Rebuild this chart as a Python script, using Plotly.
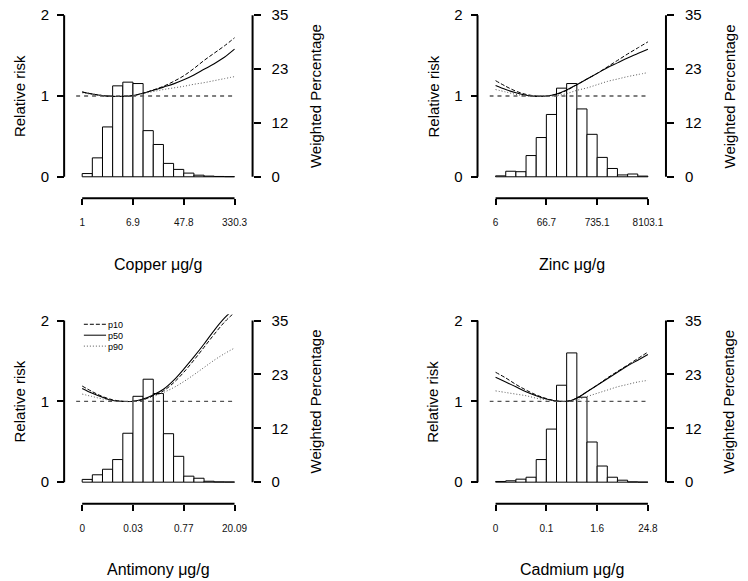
import plotly.graph_objects as go

W, H = 748, 581

# ---------------- data ----------------
metals = ["Copper", "Zinc", "Antimony", "Cadmium"]
x_tick_labels = {
    "Copper": ["1", "6.9", "47.8", "330.3"],
    "Zinc": ["6", "66.7", "735.1", "8103.1"],
    "Antimony": ["0", "0.03", "0.77", "20.09"],
    "Cadmium": ["0", "0.1", "1.6", "24.8"],
}
# weighted percentage per histogram bin (15 bins)
copper_pct = [0.7, 4.1, 10.8, 19.7, 20.5, 20.2, 10.0, 7.0, 2.9, 1.6, 0.8, 0.35, 0.15, 0.07, 0.03]
zinc_pct = [0.2, 1.2, 1.1, 4.6, 8.5, 13.5, 19.2, 20.2, 14.7, 9.2, 4.2, 1.8, 0.4, 0.6, 0.15]
antimony_pct = [0.6, 1.6, 2.8, 4.9, 10.6, 18.6, 22.3, 19.2, 10.5, 5.6, 1.3, 0.85, 0.2, 0.07, 0.05]
cadmium_pct = [0.15, 0.3, 0.65, 1.07, 4.9, 11.5, 21.0, 28.0, 18.4, 8.7, 3.5, 1.07, 0.43, 0.07, 0.02]

# relative risk curves evaluated at bin edges 0..15
copper_p10 = [1.05, 1.025, 1.005, 0.995, 0.995, 1.005, 1.035, 1.075, 1.12, 1.18, 1.25, 1.34, 1.44, 1.53, 1.62, 1.72]
copper_p50 = [1.05, 1.025, 1.005, 0.995, 0.995, 1.005, 1.035, 1.07, 1.11, 1.15, 1.20, 1.26, 1.33, 1.40, 1.48, 1.58]
copper_p90 = [1.04, 1.02, 1.005, 0.995, 0.995, 1.0, 1.03, 1.055, 1.08, 1.10, 1.12, 1.145, 1.165, 1.19, 1.215, 1.24]

zinc_p10 = [1.19, 1.12, 1.06, 1.02, 1.0, 1.0, 1.02, 1.07, 1.14, 1.21, 1.28, 1.36, 1.44, 1.52, 1.595, 1.67]
zinc_p50 = [1.13, 1.08, 1.04, 1.01, 0.995, 1.0, 1.025, 1.075, 1.14, 1.21, 1.28, 1.35, 1.41, 1.47, 1.525, 1.58]
zinc_p90 = [1.08, 1.05, 1.02, 1.0, 0.995, 0.995, 1.005, 1.03, 1.07, 1.10, 1.14, 1.18, 1.21, 1.24, 1.265, 1.29]

antimony_p10 = [1.19, 1.12, 1.06, 1.02, 1.0, 1.0, 1.02, 1.07, 1.13, 1.23, 1.36, 1.51, 1.67, 1.83, 1.98, 2.10]
antimony_p50 = [1.16, 1.10, 1.05, 1.01, 1.0, 1.0, 1.03, 1.08, 1.15, 1.26, 1.40, 1.55, 1.71, 1.88, 2.03, 2.15]
antimony_p90 = [1.09, 1.06, 1.03, 1.01, 1.0, 1.0, 1.02, 1.06, 1.11, 1.17, 1.245, 1.33, 1.42, 1.51, 1.59, 1.66]

cadmium_p10 = [1.36, 1.29, 1.21, 1.14, 1.08, 1.035, 1.005, 1.0, 1.04, 1.12, 1.20, 1.29, 1.37, 1.45, 1.53, 1.61]
cadmium_p50 = [1.30, 1.24, 1.18, 1.12, 1.07, 1.03, 1.005, 1.0, 1.04, 1.12, 1.20, 1.28, 1.36, 1.44, 1.51, 1.58]
cadmium_p90 = [1.13, 1.11, 1.09, 1.07, 1.04, 1.02, 1.005, 1.0, 1.02, 1.06, 1.10, 1.14, 1.18, 1.21, 1.24, 1.26]

pct = {"Copper": copper_pct, "Zinc": zinc_pct, "Antimony": antimony_pct, "Cadmium": cadmium_pct}
curves = {
    "Copper": (copper_p10, copper_p50, copper_p90),
    "Zinc": (zinc_p10, zinc_p50, zinc_p90),
    "Antimony": (antimony_p10, antimony_p50, antimony_p90),
    "Cadmium": (cadmium_p10, cadmium_p50, cadmium_p90),
}
curve_names = ["p10", "p50", "p90"]
rr_ticks = [0, 1, 2]
pct_tick_labels = ["0", "12", "23", "35"]

# ---------------- styling / layout ----------------
FONT = "Liberation Sans, Arial, Helvetica, sans-serif"
curve_styles = [
    dict(color="black", width=1, dash="4px,2px"),
    dict(color="black", width=1.1, dash="solid"),
    dict(color="#555555", width=1, dash="1px,2px"),
]


def pxx(px):
    return px / W


def pxy(py):
    return 1 - py / H


offsets = [(0, 0), (419, 0), (0, 307.5), (419, 307.5)]
nbins = 15

fig = go.Figure()
layout = dict(
    width=W, height=H, margin=dict(l=0, r=0, t=0, b=0),
    paper_bgcolor="white", plot_bgcolor="white", showlegend=False,
    font=dict(family=FONT, color="black"),
)
shapes = []
annotations = []

for i, m in enumerate(metals):
    ox, oy = offsets[i]
    xa = "x" if i == 0 else f"x{i+1}"
    yb_id = 2 * i + 1
    yo_id = 2 * i + 2
    yb = "y" if yb_id == 1 else f"y{yb_id}"
    yo = f"y{yo_id}"

    y_zero = 176.0 + oy
    y_two = 13.3 + oy
    unit = (y_zero - y_two) / 2
    x0px = 83.3 + ox
    x15px = 237.7 + ox
    bw = (x15px - x0px) / nbins

    xdom = [pxx(x0px - 0.6 * bw), pxx(x15px + 0.6 * bw)]
    ydom = [pxy(y_zero + 0.08 * unit), pxy(y_two - 0.08 * unit)]

    layout["xaxis" if i == 0 else f"xaxis{i+1}"] = dict(
        domain=xdom, range=[-0.6, nbins + 0.6], anchor="free",
        position=pxy(197.7 + oy),
        tickvals=[0, 5, 10, 15], ticktext=x_tick_labels[m],
        ticks="outside", ticklen=6, tickwidth=2, tickcolor="black",
        showline=False, showgrid=False, zeroline=False,
        tickfont=dict(size=10, family=FONT, color="#111"),
        ticklabelstandoff=9, fixedrange=True,
    )
    layout["yaxis" if yb_id == 1 else f"yaxis{yb_id}"] = dict(
        domain=ydom, range=[-1.4, 36.4], anchor="free", position=pxx(256 + ox),
        side="right", tickvals=[0, 35 / 3, 70 / 3, 35], ticktext=pct_tick_labels,
        ticks="outside", ticklen=7, tickwidth=2, tickcolor="black",
        showline=False, showgrid=False, zeroline=False,
        tickfont=dict(size=15, family=FONT), ticklabelstandoff=8,
    )
    layout[f"yaxis{yo_id}"] = dict(
        overlaying=yb, range=[-0.08, 2.08], anchor="free", position=pxx(65 + ox),
        side="left", tickvals=rr_ticks,
        ticks="outside", ticklen=7, tickwidth=2, tickcolor="black",
        showline=False, showgrid=False, zeroline=False,
        tickfont=dict(size=15, family=FONT), ticklabelstandoff=5,
    )

    # histogram
    fig.add_trace(go.Bar(
        x=[b + 0.5 for b in range(nbins)], y=pct[m], width=1,
        marker=dict(color="white", line=dict(color="black", width=1)),
        xaxis=xa, yaxis=yb, hoverinfo="skip",
    ))
    # curves
    for name, vals, st in zip(curve_names, curves[m], curve_styles):
        fig.add_trace(go.Scatter(
            x=list(range(nbins + 1)), y=vals, mode="lines", name=name,
            line=dict(shape="spline", smoothing=1.0, **st),
            xaxis=xa, yaxis=yo,
        ))

    # axis lines (R style, spanning only the tick range)
    shapes.append(dict(type="line", xref="paper", x0=pxx(65 + ox), x1=pxx(65 + ox),
                       yref=yo, y0=0, y1=2, line=dict(color="black", width=2)))
    shapes.append(dict(type="line", xref="paper", x0=pxx(256 + ox), x1=pxx(256 + ox),
                       yref=yb, y0=0, y1=35, line=dict(color="black", width=2)))
    shapes.append(dict(type="line", xref=xa, x0=0, x1=nbins,
                       yref="paper", y0=pxy(197.7 + oy), y1=pxy(197.7 + oy),
                       line=dict(color="black", width=2)))
    # reference line at RR = 1
    shapes.append(dict(type="line", xref=xa, x0=-0.6, x1=nbins, yref=yo, y0=1, y1=1,
                       line=dict(color="#555555", width=1.3, dash="4px,4px"), layer="above"))

    # titles
    annotations.append(dict(text="Relative risk", x=pxx(20 + ox), y=pxy(95 + oy),
                            xref="paper", yref="paper", textangle=-90, showarrow=False,
                            xanchor="center", yanchor="middle", font=dict(size=15, family=FONT)))
    annotations.append(dict(text="Weighted Percentage", x=pxx(320 + ox), y=pxy(95 + oy),
                            xref="paper", yref="paper", textangle=-90, showarrow=False,
                            xanchor="center", yanchor="middle", font=dict(size=15, family=FONT)))
    annotations.append(dict(text=f"{m} μg/g", x=pxx(160.5 + ox), y=pxy(264 + oy),
                            xref="paper", yref="paper", showarrow=False,
                            xanchor="center", yanchor="middle", font=dict(size=16, family=FONT)))

# legend (drawn in the Antimony panel)
leg_ox, leg_oy = offsets[2]
for k, (name, st) in enumerate(zip(curve_names, curve_styles)):
    ly = 17.0 + 11 * k + leg_oy
    shapes.append(dict(type="line", xref="paper", yref="paper",
                       x0=pxx(85 + leg_ox), x1=pxx(107.5 + leg_ox), y0=pxy(ly), y1=pxy(ly),
                       line=dict(color=st["color"], width=1, dash=st["dash"])))
    annotations.append(dict(text=name, x=pxx(108.5 + leg_ox), y=pxy(ly + 0.8),
                            xref="paper", yref="paper", showarrow=False, borderpad=0,
                            xanchor="left", yanchor="middle", font=dict(size=9, family=FONT)))

layout["shapes"] = shapes
layout["annotations"] = annotations
fig.update_layout(**layout)
fig.write_html("out.html")
